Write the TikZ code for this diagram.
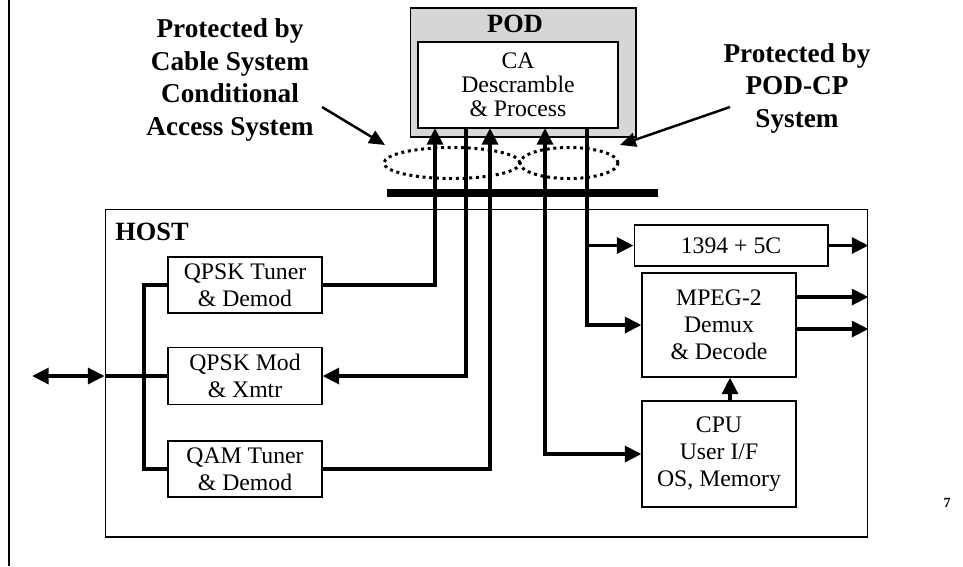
\documentclass[tikz,border=0pt]{standalone}
\usepackage{fontspec}
\setmainfont{Liberation Serif}
\usetikzlibrary{arrows.meta,shapes.geometric}

\tikzset{
  blk/.style={draw, line width=0.6pt, fill=white, align=center, inner sep=1pt, font=\fontsize{13.5}{15.5}\selectfont},
  note/.style={align=center, font=\fontsize{15.5}{18.5}\selectfont\bfseries},
  conn/.style={line width=2.2pt},
  pointer/.style={line width=1.4pt, -{Triangle[length=9pt,width=8pt]}},
  ring/.style={draw, ellipse, line width=1.7pt, dash pattern=on 1.7pt off 2.1pt, inner sep=0pt}
}

\begin{document}
\begin{tikzpicture}[x=0.02cm, y=-0.02cm, >={Triangle[length=9.5pt,width=9pt]}]
\useasboundingbox (0,0) rectangle (963,566);
% page edge
\draw[line width=1.2pt] (9,0) -- (9,566);

% POD module
\node[draw, fill=black!16, line width=0.6pt, minimum width=4.52cm, minimum height=2.58cm] (pod) at (523,72.5) {};
\node[font=\fontsize{15}{18}\selectfont\bfseries] (podname) at (515,24) {POD};
\node[blk, font=\fontsize{13.5}{13.8}\selectfont, minimum width=4cm, minimum height=1.72cm] (ca) at (518,85) {CA\\Descramble\\\& Process};

% protected zones
\node[ring, minimum width=2.72cm, minimum height=0.62cm] (caring) at (452,163) {};
\node[ring, minimum width=1.96cm, minimum height=0.62cm] (cpring) at (569,163) {};
\draw[line width=4.5pt] (387,193) -- (658,193);

\node[note] (caslabel) at (230,80) {Protected by\\Cable System\\Conditional\\Access System};
\node[note] (cplabel) at (797,88) {Protected by\\POD-CP\\System};
\coordinate (castail) at (322,107);
\coordinate (cashead) at (385,145);
\coordinate (cptail) at (730,107);
\coordinate (cphead) at (620,145);
\draw[pointer] (castail) -- (cashead);
\draw[pointer] (cptail) -- (cphead);

% host
\node[draw, line width=0.6pt, minimum width=15.26cm, minimum height=6.56cm] (host) at (486.5,373) {};
\node[anchor=base west, font=\fontsize{15}{18}\selectfont\bfseries, inner sep=0pt] (hostname) at (115,240) {HOST};

\node[blk, minimum width=3.08cm, minimum height=1.12cm] (qpsktuner) at (245,285) {QPSK Tuner\\\& Demod};
\node[blk, minimum width=3.08cm, minimum height=1.14cm] (qpskmod) at (245,376) {QPSK Mod\\\& Xmtr};
\node[blk, minimum width=3.08cm, minimum height=1.12cm] (qamtuner) at (245,469) {QAM Tuner\\\& Demod};

\node[blk, minimum width=3.88cm, minimum height=0.82cm] (fw) at (731,245.5) {1394 + 5C};
\node[blk, minimum width=3.08cm, minimum height=2.08cm] (mpeg) at (719,325) {MPEG-2\\Demux\\\& Decode};
\node[blk, minimum width=3.08cm, minimum height=2.12cm] (cpu) at (719,454) {CPU\\User I/F\\OS, Memory};

\node[font=\fontsize{8}{9}\selectfont\bfseries] (pagenum) at (947,503) {7};

% taps on the POD
\coordinate (tapA) at (435,128);
\coordinate (tapB) at (466,128);
\coordinate (tapC) at (490,128);
\coordinate (tapD) at (545,128);
\coordinate (tapE) at (587,128);
\coordinate (lbus) at (144,0);
\coordinate (cable) at (32,376);

% connections
\draw[conn,<->] (cable) -- (cable -| host.west);
\draw[conn] (cable -| host.west) -- (qpskmod.west);
\draw[conn] (qpsktuner.west) -| (lbus |- qamtuner.west) -- (qamtuner.west);
\draw[conn,->] (qpsktuner.east) -| (tapA);
\draw[conn,->] (tapB) |- (qpskmod.east);
\draw[conn,->] (qamtuner.east) -| (tapC);
\draw[conn,<->] (tapD) |- (cpu.west);
\draw[conn,->] (tapE) |- (fw.west);
\draw[conn,->] (tapE) |- (mpeg.west);
\draw[conn,->] (fw.east) -- (fw.east -| host.east);
\coordinate (mpo1) at ([yshift=0.56cm]mpeg.east);
\coordinate (mpo2) at ([yshift=-0.08cm]mpeg.east);
\draw[conn,->] (mpo1) -- (mpo1 -| host.east);
\draw[conn,->] (mpo2) -- (mpo2 -| host.east);
\draw[conn,->] ([xshift=0.22cm]cpu.north) -- ([xshift=0.22cm]mpeg.south);
\end{tikzpicture}
\end{document}
